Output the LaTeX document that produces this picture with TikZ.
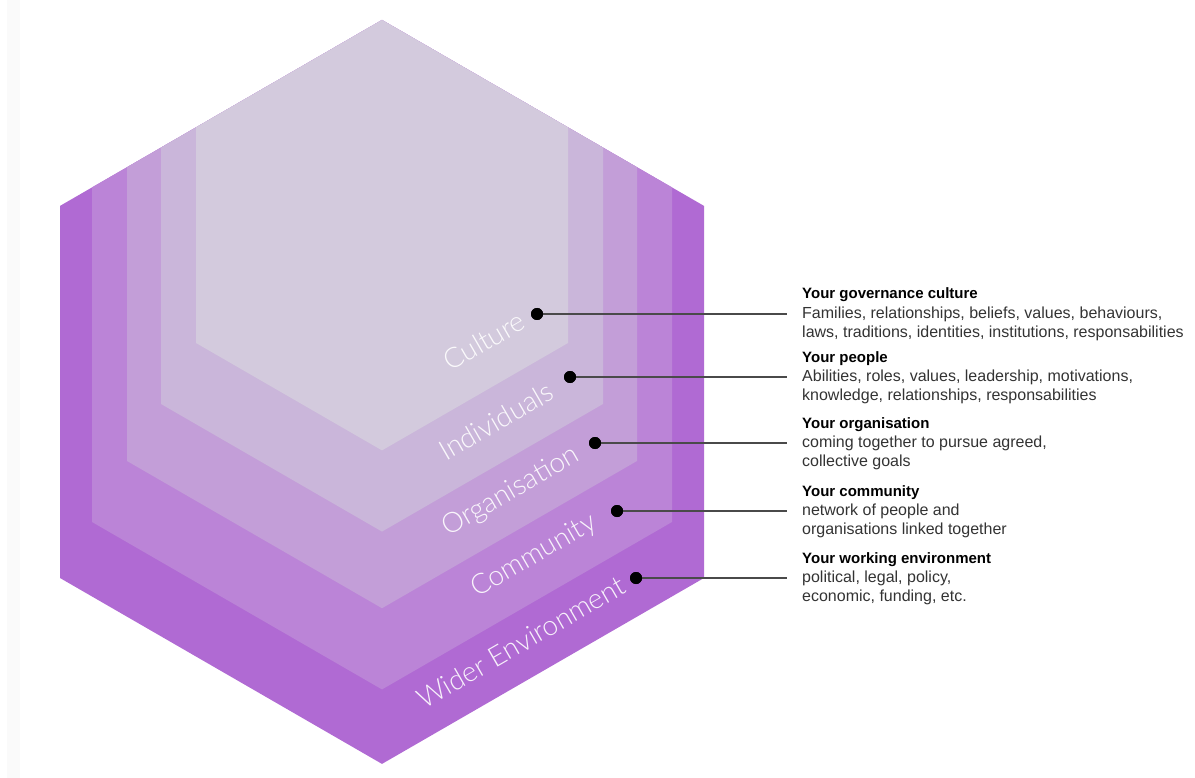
\documentclass[tikz,border=0pt]{standalone}
\usepackage{fontspec}
\setmainfont{Liberation Sans}
\newfontfamily\lightfont{Lato Light}
\definecolor{lay1}{HTML}{B06AD3}
\definecolor{lay2}{HTML}{BB84D7}
\definecolor{lay3}{HTML}{C39ED8}
\definecolor{lay4}{HTML}{CAB6DA}
\definecolor{lay5}{HTML}{D3CADD}
\definecolor{conncol}{HTML}{4A4A4A}
\definecolor{desccol}{HTML}{333333}
\definecolor{stripcol}{HTML}{FAFAFA}
\tikzset{
  dot/.style={circle, fill=black, inner sep=0pt, minimum size=12pt},
  conn/.style={draw=conncol, line width=1.8pt},
  lbl/.style={rotate=30, text=white, text opacity=0.9, font=\lightfont\fontsize{28}{28}\selectfont, inner sep=0pt},
  head/.style={anchor=base west, inner sep=0pt, font=\bfseries\fontsize{15}{15}\selectfont},
  desc/.style={anchor=base west, inner sep=0pt, text=desccol, font=\fontsize{16}{16}\selectfont},
}
\begin{document}
\begin{tikzpicture}[x=1pt,y=-1pt]
\useasboundingbox (0,0) rectangle (1195,778);
\fill[stripcol] (7,0) rectangle (20,778);
% layered hexagon
\foreach \w/\yc/\col in {322/578/lay1, 290/522/lay2, 255/461/lay3, 221/404/lay4, 186/343/lay5}{
  \fill[\col] (382,20) -- ({382-\w},{20+\w*0.57735}) -- ({382-\w},\yc) -- (382,{\yc+\w*0.57735}) -- ({382+\w},\yc) -- ({382+\w},{20+\w*0.57735}) -- cycle;
}
% rotated labels
\node[lbl] (lc) at (484,341) {Culture};
\node[lbl] (li) at (496,421) {Individuals};
\node[lbl] (lo) at (511,492) {Organisation};
\node[lbl] (lm) at (534,556) {Community};
\node[lbl] (lw) at (521,642) {Wider Environment};
% dots and connectors
\node[dot] (d1) at (537,314) {};
\node[dot] (d2) at (570,377) {};
\node[dot] (d3) at (595,443) {};
\node[dot] (d4) at (617,511) {};
\node[dot] (d5) at (636,578) {};
\coordinate (e1) at (787,314);
\coordinate (e2) at (787,377);
\coordinate (e3) at (787,443);
\coordinate (e4) at (787,511);
\coordinate (e5) at (787,578);
\foreach \i in {1,...,5}{
  \draw[conn] (d\i.center) -- (e\i);
  \fill[black] (d\i) circle (6pt);
}
% descriptions
\node[head] (h1) at (802,299) {Your governance culture};
\node[desc] (t1a) at (802,318.5) {Families, relationships, beliefs, values, behaviours,};
\node[desc] (t1b) at (802,337.5) {laws, traditions, identities, institutions, responsabilities};
\node[head] (h2) at (802,362) {Your people};
\node[desc] (t2a) at (802,381.5) {Abilities, roles, values, leadership, motivations,};
\node[desc] (t2b) at (802,400.5) {knowledge, relationships, responsabilities};
\node[head] (h3) at (802,428) {Your organisation};
\node[desc] (t3a) at (802,447.5) {coming together to pursue agreed,};
\node[desc] (t3b) at (802,466.5) {collective goals};
\node[head] (h4) at (802,496) {Your community};
\node[desc] (t4a) at (802,515.5) {network of people and};
\node[desc] (t4b) at (802,534.5) {organisations linked together};
\node[head] (h5) at (802,563) {Your working environment};
\node[desc] (t5a) at (802,582.5) {political, legal, policy,};
\node[desc] (t5b) at (802,601.5) {economic, funding, etc.};
\end{tikzpicture}
\end{document}
